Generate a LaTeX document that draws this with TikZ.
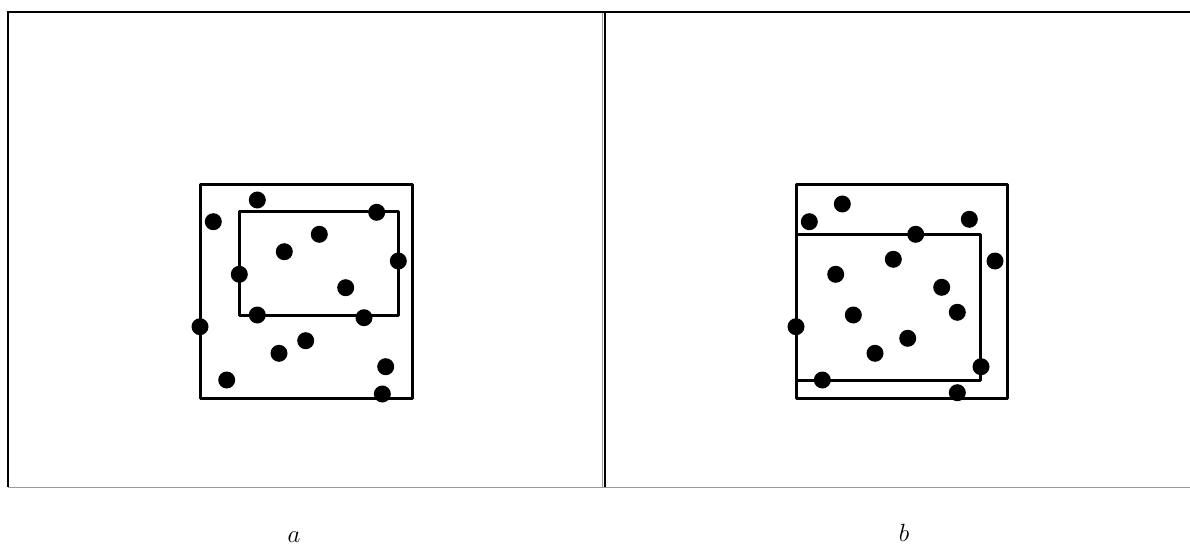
\documentclass[tikz,border=0pt]{standalone}
\begin{document}
\begin{tikzpicture}[x=1pt,y=-1pt,
  frame/.style={line width=2pt,black},
  framelight/.style={line width=1pt,gray!80},
  box/.style={line width=3pt,line cap=round,line join=round},
  dot/.style={circle,fill=black,inner sep=0pt,minimum size=17pt},
  lab/.style={font=\fontsize{30}{32}\selectfont,inner sep=0pt}]
\useasboundingbox (0,0) rectangle (1190,545);
% frames
\draw[framelight] (8,487) -- (1190,487);
\draw[framelight] (602.3,12) -- (602.3,487);
\draw[frame] (8,487) -- (8,12) -- (1190,12);
\draw[frame] (605.3,12) -- (605.3,487);
% panel a
\draw[box] (200,185) rectangle (412,398);
\draw[box] (239,212) rectangle (398,315);
\foreach \p/\q [count=\i] in {257.3/200, 213.3/221.7, 376.7/212.3, 319.3/234.3, 284.3/251.7, 398.3/261,
  239.3/274.3, 345.7/287.7, 257.3/315, 364/317.7, 200/326.7, 305.7/340.7, 279/353.3,
  385.7/366.7, 226.7/380, 382.3/394}
  \node[dot] (a\i) at (\p,\q) {};
% panel b
\draw[box] (796,185) rectangle (1007.3,398);
\draw[box] (796,234.3) rectangle (980.7,380.7);
\foreach \p/\q [count=\i] in {842.3/204, 809.3/221.7, 969.3/219.3, 915.7/234.3, 893.3/259.3, 995/261,
  835.7/274.3, 941.7/287.3, 957.3/312.3, 853.3/315, 796/326.7, 907.7/338.3, 875/353.3,
  981/366.7, 822.3/380, 957.3/392.7}
  \node[dot] (b\i) at (\p,\q) {};
% labels
\node[lab] (la) at (294,537) {$a$};
\node[lab] (lb) at (904,533) {$b$};
\end{tikzpicture}
\end{document}
